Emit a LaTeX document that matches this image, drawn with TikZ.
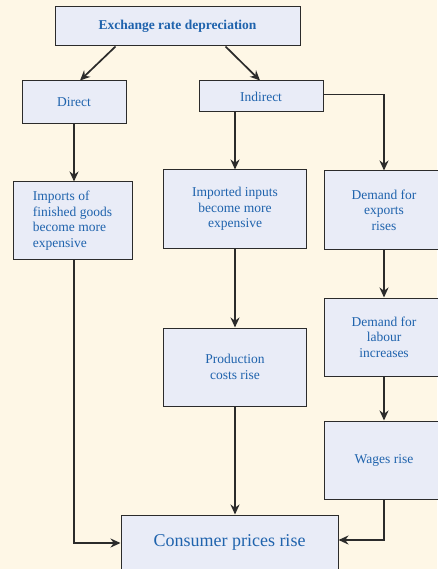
\documentclass[tikz,border=0pt]{standalone}
\usepackage{fontspec}
\setmainfont{Liberation Serif}
\usetikzlibrary{arrows.meta}
\definecolor{cream}{HTML}{FEF7E6}
\definecolor{boxfill}{HTML}{E9ECF7}
\definecolor{textblue}{HTML}{1F63AD}
\definecolor{linegray}{HTML}{2B2B2B}

\begin{document}
\begin{tikzpicture}[x=1pt, y=-1pt,
flowbox/.style={rectangle, draw=linegray, fill=boxfill, line width=1pt, text=textblue, align=center, inner sep=0pt,
  font=\fontsize{13.5}{15.5}\selectfont},
flowarrow/.style={-{Stealth[length=10pt,width=9pt]}, draw=linegray, line width=1.7pt},
]
\fill[cream] (0,0) rectangle (437,569);
\useasboundingbox (0,0) rectangle (437,569);

\node[flowbox, minimum width=245pt, minimum height=39pt, font=\fontsize{13.5}{15.5}\selectfont\bfseries] at(177.5,26.5) (depreciation) {Exchange rate depreciation};
\node[flowbox, minimum width=104pt, minimum height=43pt] at(74,102.5) (direct) {Direct};
\node[flowbox, minimum width=124pt, minimum height=31pt] at(261,96.5) (indirect) {Indirect};

\node[flowbox, minimum width=119pt, minimum height=77pt, align=left] at(72.5,220.5) (finished) {Imports of\\finished goods\\become more\\expensive};
\node[flowbox, minimum width=143pt, minimum height=78pt] at(235,209) (inputs) {Imported inputs\\become more\\expensive};
\node[flowbox, minimum width=120pt, minimum height=78pt] at(384,210) (exports) {Demand for\\exports\\rises};

\node[flowbox, minimum width=143pt, minimum height=78pt] at(235,367) (costs) {Production\\costs rise};
\node[flowbox, minimum width=120pt, minimum height=78pt] at(384,337) (labour) {Demand for\\labour\\increases};
\node[flowbox, minimum width=120pt, minimum height=78pt] at(384,460) (wages) {Wages rise};

\node[flowbox, minimum width=217pt, minimum height=54pt, font=\fontsize{18}{20}\selectfont] at(229.5,542) (consumer) {Consumer prices rise};

\draw[flowarrow] ([xshift=-62pt]depreciation.south) -- ([xshift=6pt]direct.north);
\draw[flowarrow] ([xshift=48pt]depreciation.south) -- ([xshift=-1pt]indirect.north);
\draw[flowarrow] (direct.south) -- (direct.south |- finished.north);
\draw[flowarrow] (inputs.north |- indirect.south) -- (inputs.north);
\draw[flowarrow] ([yshift=2pt]indirect.east) -| (exports.north);
\draw[flowarrow] (inputs) -- (costs);
\draw[flowarrow] (exports) -- (labour);
\draw[flowarrow] (labour) -- (wages);
\draw[flowarrow] (costs.south) -- (costs.south |- consumer.north);
\draw[flowarrow] ([xshift=1.5pt]finished.south) |- ([yshift=-1pt]consumer.west);
\draw[flowarrow] (wages.south) |- ([yshift=2pt]consumer.east);

\end{tikzpicture}
\end{document}
